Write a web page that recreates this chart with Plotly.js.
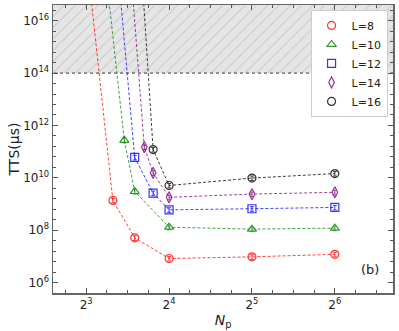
<!DOCTYPE html>
<html>
<head>
<meta charset="utf-8">
<script src="https://cdn.plot.ly/plotly-3.0.1.min.js"></script>
<style>
  body { margin: 0; background: #fff; }
  #myDiv { width: 399px; height: 331px; }
</style>
</head>
<body>
<div id="myDiv"></div>
<script>
// Np values and TTS (us) for each chain length L
// first point of each series sits above the plotted range
var np8  = [8, 10, 12, 16, 32, 64];
var tts8 = [3.6e18, 1.37e9, 5.1e7, 8.3e6, 9.6e6, 1.2e7];

var np10  = [9, 11, 12, 16, 32, 64];
var tts10 = [6e19, 2.7e11, 3.0e9, 1.3e8, 1.1e8, 1.2e8];

var np12  = [10, 12, 14, 16, 32, 64];
var tts12 = [1.3e20, 6.0e10, 2.6e9, 6.0e8, 6.6e8, 7.4e8];

var np14  = [11, 13, 14, 16, 32, 64];
var tts14 = [1.6e21, 1.5e11, 1.55e10, 1.8e9, 2.4e9, 2.8e9];

var np16  = [12, 14, 16, 32, 64];
var tts16 = [1e22, 1.2e11, 5.1e9, 9.8e9, 1.45e10];

var labels = ['L=8', 'L=10', 'L=12', 'L=14', 'L=16'];
var colors = ['#ff0000', '#008000', '#0000ff', '#800080', '#000000'];
var symbols = ['circle-open', 'triangle-up-open', 'square-open', 'diamond-tall-open', 'circle-open'];

var xs = [np8, np10, np12, np14, np16];
var ys = [tts8, tts10, tts12, tts14, tts16];

var limit = 1e14; // shaded region starts here

var data = [];

// hatched region above the limit
data.push({
  x: [5, 120, 120, 5, 5],
  y: [limit, limit, 1e18, 1e18, limit],
  type: 'scatter',
  mode: 'lines',
  fill: 'toself',
  fillcolor: '#e5e5e5',
  fillpattern: {shape: '/', bgcolor: '#e5e5e5', fgcolor: '#c9c9c9', size: 8, solidity: 0.12},
  line: {width: 0},
  hoverinfo: 'skip',
  showlegend: false
});
data.push({
  x: [5, 120],
  y: [limit, limit],
  type: 'scatter',
  mode: 'lines',
  line: {color: '#333', width: 1, dash: 'dot'},
  hoverinfo: 'skip',
  showlegend: false
});

for (var i = 0; i < labels.length; i++) {
  data.push({
    x: xs[i],
    y: ys[i],
    type: 'scatter',
    mode: 'lines',
    line: {color: colors[i], width: 1, dash: '3px,2px'},
    opacity: 0.75,
    showlegend: false
  });
}
for (var i = 0; i < labels.length; i++) {
  data.push({
    x: xs[i].slice(1),
    y: ys[i].slice(1),
    name: labels[i],
    type: 'scatter',
    mode: 'markers',
    marker: {symbol: symbols[i], size: 8, color: colors[i], line: {width: 1.2, color: colors[i]}},
    error_y: {type: 'percent', value: 20, color: colors[i], thickness: 1, width: 2},
    opacity: 0.8
  });
}

var font = {family: 'DejaVu Sans, sans-serif', size: 12, color: '#222'};

var layout = {
  width: 399,
  height: 331,
  margin: {l: 53, r: 6, t: 5, b: 38},
  paper_bgcolor: '#fff',
  plot_bgcolor: '#fff',
  font: font,
  showlegend: true,
  legend: {
    x: 0.984, y: 0.983, xanchor: 'right', yanchor: 'top',
    bgcolor: '#fff', bordercolor: '#cccccc', borderwidth: 1,
    font: {family: 'DejaVu Sans, sans-serif', size: 11, color: '#222'},
    itemwidth: 30, tracegroupgap: 0
  },
  xaxis: {
    type: 'log',
    range: [0.7824, 2.0175],
    tickvals: [8, 16, 32, 64],
    ticktext: ['2<sup>3</sup>', '2<sup>4</sup>', '2<sup>5</sup>', '2<sup>6</sup>'],
    ticks: 'inside', ticklen: 5, tickwidth: 1, tickcolor: '#555',
    minor: {ticks: 'inside', ticklen: 3, tickcolor: '#555', tick0: 0, dtick: Math.log10(2) / 4, showgrid: false},
    showline: true, linecolor: '#666', linewidth: 1.5, mirror: 'ticks',
    showgrid: false, zeroline: false,
    tickfont: {size: 12, color: '#222'},
    title: {text: '<i>N</i><sub>p</sub>', font: {size: 14, color: '#222'}, standoff: 4}
  },
  yaxis: {
    type: 'log',
    range: [5.602, 16.60],
    tickvals: [1e6, 1e8, 1e10, 1e12, 1e14, 1e16],
    ticktext: ['10<sup>6</sup>', '10<sup>8</sup>', '10<sup>10</sup>', '10<sup>12</sup>', '10<sup>14</sup>', '10<sup>16</sup>'],
    ticks: 'inside', ticklen: 5, tickwidth: 1, tickcolor: '#555',
    minor: {ticks: 'inside', ticklen: 3, tickcolor: '#555', tick0: 0, dtick: 0.4, showgrid: false},
    showline: true, linecolor: '#666', linewidth: 1.5, mirror: 'ticks',
    showgrid: false, zeroline: false,
    tickfont: {size: 12, color: '#222'},
    title: {text: 'TTS(μs)', font: {size: 14, color: '#222'}, standoff: 0}
  },
  annotations: [{
    text: '(b)', xref: 'paper', yref: 'paper', x: 0.932, y: 0.08,
    xanchor: 'center', yanchor: 'middle',
    showarrow: false, font: {size: 13, color: '#222'}
  }]
};

Plotly.newPlot('myDiv', data, layout, {displayModeBar: false, staticPlot: true});
</script>
</body>
</html>
